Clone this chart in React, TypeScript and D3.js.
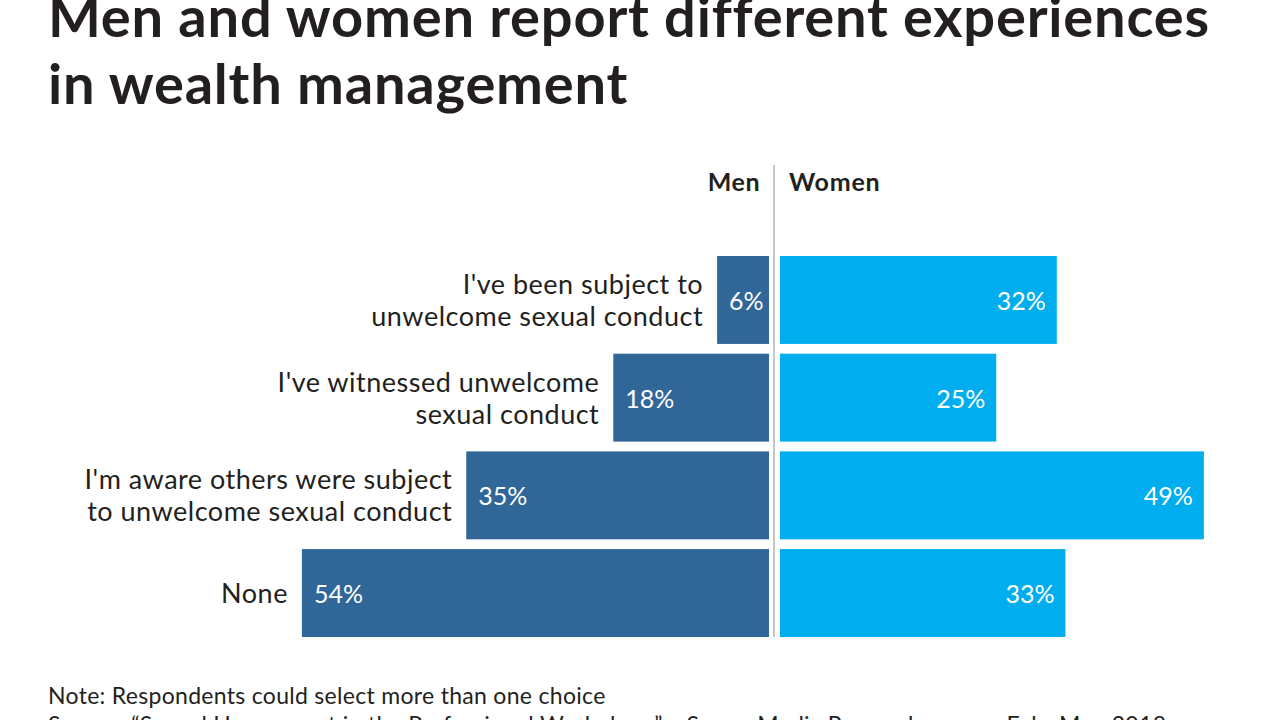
import React from 'react';
import * as d3 from 'd3';

const categories = [
  ["I've been subject to", 'unwelcome sexual conduct'],
  ["I've witnessed unwelcome", 'sexual conduct'],
  ["I'm aware others were subject", 'to unwelcome sexual conduct'],
  ['None'],
];
const menValues = [6, 18, 35, 54];
const womenValues = [32, 25, 49, 33];

const width = 1280;
const height = 720;
const centerX = 774;
const pxPerPct = 8.65;
const textColor = '#231f20';
const menColor = '#316699';
const womenColor = '#00adee';
const font = 'Lato, "Open Sans", sans-serif';

const App: React.FC = () => {
  const menX = d3.scaleLinear().domain([0, 100]).range([centerX - 5, centerX - 5 - 100 * pxPerPct]);
  const womenX = d3.scaleLinear().domain([0, 100]).range([centerX + 6, centerX + 6 + 100 * pxPerPct]);
  const y = d3.scaleBand<number>()
    .domain(d3.range(categories.length))
    .range([256, 637])
    .paddingInner(0.1)
    .paddingOuter(0);

  return (
    <svg width={width} height={height} viewBox={`0 0 ${width} ${height}`}
      style={{ position: 'absolute', left: 0, top: 0, background: '#fff' }}>
      <g fontFamily={font} fill={textColor}>
        <text x={48} y={37} fontSize={56} fontWeight={700} letterSpacing={0.8}>Men and women report different experiences</text>
        <text x={48} y={104} fontSize={56} fontWeight={700} letterSpacing={0.8}>in wealth management</text>

        <line x1={centerX} x2={centerX} y1={165} y2={637} stroke="#b3b3b3" strokeWidth={1.5} />
        <text x={centerX - 14} y={191} fontSize={25} fontWeight={700} textAnchor="end" letterSpacing={0.5}>Men</text>
        <text x={centerX + 15} y={191} fontSize={25} fontWeight={700} letterSpacing={0.8}>Women</text>

        {categories.map((lines, i) => {
          const y0 = y(i)!;
          const h = y.bandwidth();
          const cy = y0 + h / 2;
          const mx = menX(menValues[i]);
          const wx = womenX(womenValues[i]);
          return (
            <g key={i}>
              <rect x={mx} y={y0} width={menX(0) - mx} height={h} fill={menColor} />
              <rect x={womenX(0)} y={y0} width={wx - womenX(0)} height={h} fill={womenColor} />
              <text x={mx + 12} y={cy + 10} fontSize={25} fill="#fff">{menValues[i]}%</text>
              <text x={wx - 11} y={cy + 10} fontSize={25} fill="#fff" textAnchor="end">{womenValues[i]}%</text>
              {lines.map((l, j) => (
                <text key={j} x={mx - 14} y={cy + 10 + (j - (lines.length - 1) / 2) * 32}
                  fontSize={27} letterSpacing={0.5} textAnchor="end">{l}</text>
              ))}
            </g>
          );
        })}

        <text x={48} y={704} fontSize={23} letterSpacing={0.3}>Note: Respondents could select more than one choice</text>
        <text x={48} y={733} fontSize={23} letterSpacing={0.3}>Source: “Sexual Harassment in the Professional Workplace,” a SourceMedia Research survey, Feb.-Mar. 2018</text>
      </g>
    </svg>
  );
};

export default App;
